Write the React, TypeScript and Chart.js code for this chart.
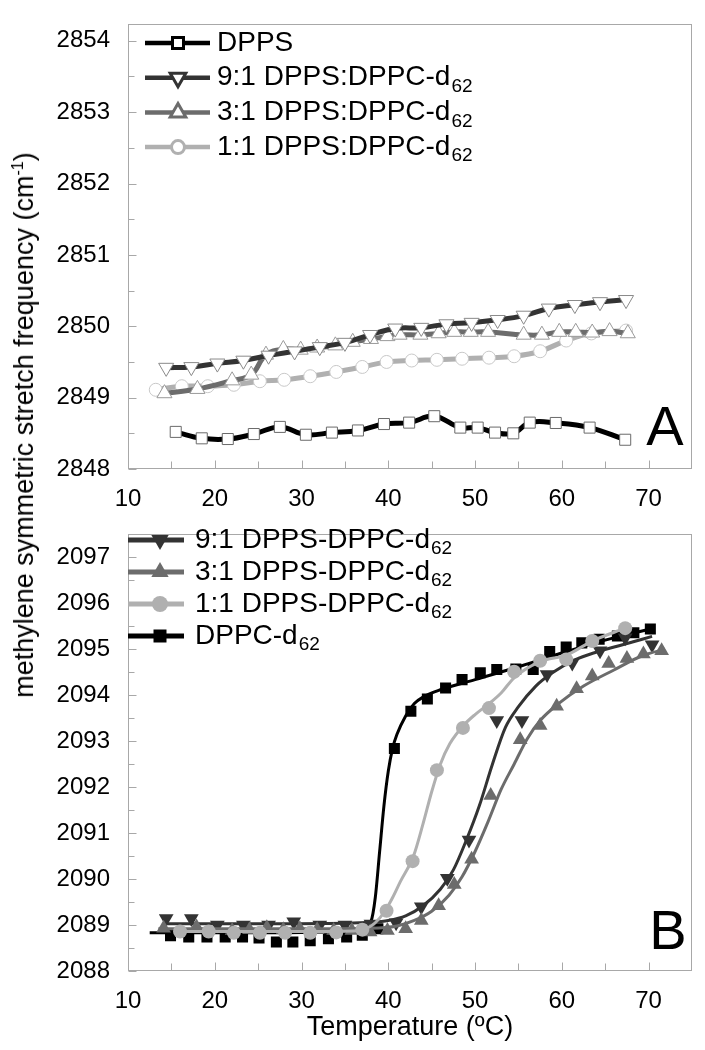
import React, { useEffect, useRef } from 'react';
import { Chart, registerables } from 'chart.js';

Chart.register(...registerables);

const FONT = "'Liberation Sans', Arial, Helvetica, sans-serif";

// ---------------- Panel A data (CH2 stretch, DPPS chains) ----------------
const aDppsX = [15.5, 18.5, 21.5, 24.5, 27.5, 30.5, 33.5, 36.5, 39.5, 42.4, 45.3, 48.3, 50.3, 52.3, 54.4, 56.3, 59.3, 63.2, 67.3];
const aDppsY = [2848.52, 2848.43, 2848.42, 2848.49, 2848.59, 2848.48, 2848.51, 2848.54, 2848.63, 2848.65, 2848.74, 2848.58, 2848.58, 2848.51, 2848.5, 2848.65, 2848.645, 2848.58, 2848.41];

const a91X = [14.4, 17.3, 20.3, 23.3, 26.2, 29.2, 32.1, 35.0, 37.9, 40.8, 43.8, 46.7, 49.6, 52.6, 55.6, 58.5, 61.5, 64.4, 67.4];
const a91Y = [2849.42, 2849.43, 2849.48, 2849.52, 2849.59, 2849.65, 2849.71, 2849.77, 2849.88, 2849.97, 2849.98, 2850.03, 2850.05, 2850.09, 2850.15, 2850.25, 2850.3, 2850.34, 2850.37];

const a31X = [14.2, 18.0, 22.0, 24.2, 25.9, 27.9, 29.9, 31.8, 33.9, 35.9, 38.0, 39.9, 41.3, 43.7, 45.8, 47.6, 49.5, 51.5, 55.6, 57.7, 59.7, 61.6, 63.5, 65.5, 67.6];
const a31Y = [2849.06, 2849.12, 2849.24, 2849.32, 2849.6, 2849.68, 2849.67, 2849.7, 2849.73, 2849.78, 2849.82, 2849.86, 2849.88, 2849.88, 2849.9, 2849.92, 2849.92, 2849.92, 2849.88, 2849.88, 2849.92, 2849.92, 2849.91, 2849.93, 2849.9];

const a11X = [13.2, 16.2, 19.2, 22.2, 25.2, 28.0, 31.0, 34.0, 37.0, 39.8, 42.7, 45.6, 48.5, 51.6, 54.5, 57.5, 60.5, 63.4, 67.4];
const a11Y = [2849.11, 2849.16, 2849.16, 2849.18, 2849.23, 2849.25, 2849.3, 2849.36, 2849.43, 2849.5, 2849.52, 2849.53, 2849.545, 2849.56, 2849.58, 2849.65, 2849.8, 2849.9, 2849.94];

// ---------------- Panel B data (CD2 stretch, DPPC-d62 chains) ----------------
const bDppcX = [14.9, 17.0, 19.1, 21.2, 23.2, 25.1, 27.1, 29.0, 31.0, 33.1, 35.2, 37.0, 38.8, 40.7, 42.6, 44.5, 46.6, 48.5, 50.6, 52.5, 54.7, 56.7, 58.6, 60.5, 62.3, 64.3, 66.4, 68.3, 70.2];
const bDppcY = [2088.77, 2088.74, 2088.74, 2088.74, 2088.74, 2088.72, 2088.63, 2088.63, 2088.66, 2088.7, 2088.74, 2088.78, 2088.92, 2092.84, 2093.65, 2093.92, 2094.16, 2094.34, 2094.49, 2094.56, 2094.57, 2094.56, 2094.95, 2095.05, 2095.14, 2095.22, 2095.29, 2095.36, 2095.44];
const bDppcFitX = [12.5, 20, 30, 35, 37, 38, 38.5, 39, 39.5, 40, 40.5, 41, 42, 43, 44, 46, 50, 55, 60, 65, 70.2];
const bDppcFitY = [2088.83, 2088.83, 2088.84, 2088.87, 2088.93, 2089.08, 2089.6, 2090.6, 2091.6, 2092.35, 2092.85, 2093.15, 2093.55, 2093.82, 2093.96, 2094.12, 2094.34, 2094.62, 2094.92, 2095.2, 2095.44];

const b91X = [14.4, 17.3, 20.3, 23.3, 26.2, 29.1, 32.1, 35.0, 38.0, 40.9, 43.8, 46.8, 49.3, 52.5, 55.4, 58.3, 61.2, 64.4, 67.3, 70.4];
const b91Y = [2089.14, 2089.14, 2089.0, 2089.0, 2089.0, 2089.07, 2089.0, 2089.0, 2089.02, 2089.05, 2089.4, 2090.02, 2090.85, 2093.45, 2093.45, 2094.45, 2094.7, 2094.97, 2095.25, 2095.1];
const b91FitX = [14.5, 25, 35, 38, 40, 42, 44, 46, 47.5, 49, 50.5, 52, 53.5, 55, 57, 59, 61.5, 64, 67, 70.4];
const b91FitY = [2089.03, 2089.03, 2089.04, 2089.06, 2089.1, 2089.2, 2089.42, 2089.78, 2090.2, 2090.85, 2091.6, 2092.5, 2093.3, 2093.75, 2094.2, 2094.5, 2094.77, 2094.94, 2095.1, 2095.28];

const b31X = [14.1, 17.9, 22.0, 24.0, 26.0, 27.9, 29.8, 31.8, 33.7, 35.8, 37.9, 39.9, 42.0, 43.8, 45.8, 47.6, 49.6, 51.8, 55.2, 57.5, 59.4, 61.7, 63.5, 65.4, 67.5, 69.4, 71.5];
const b31Y = [2088.93, 2088.96, 2088.88, 2088.9, 2088.94, 2088.9, 2088.92, 2088.9, 2088.88, 2088.88, 2088.85, 2088.88, 2088.92, 2089.1, 2089.42, 2089.88, 2090.43, 2091.82, 2093.03, 2093.34, 2093.76, 2094.14, 2094.42, 2094.69, 2094.8, 2094.9, 2094.97];
const b31FitX = [13.5, 30, 38, 41, 43, 45, 47, 48.5, 50, 51.5, 53, 54.5, 56, 57.5, 59.5, 62.5, 66, 69.4, 71.9];
const b31FitY = [2088.92, 2088.92, 2088.93, 2088.98, 2089.1, 2089.3, 2089.65, 2090.05, 2090.6, 2091.25, 2091.95, 2092.5, 2093.05, 2093.45, 2093.8, 2094.2, 2094.55, 2094.87, 2095.0];

const b11X = [16.0, 19.3, 22.2, 25.2, 28.1, 31.0, 34.0, 37.0, 39.8, 42.8, 45.6, 48.6, 51.6, 54.5, 57.5, 60.5, 63.5, 67.3];
const b11Y = [2088.86, 2088.86, 2088.83, 2088.83, 2088.83, 2088.83, 2088.84, 2088.9, 2089.31, 2090.39, 2092.37, 2093.29, 2093.72, 2094.51, 2094.75, 2094.78, 2095.18, 2095.46];
const b11FitX = [16, 30, 36, 37.5, 38.5, 39.6, 40.5, 41.4, 42.9, 44, 45, 46, 47.1, 48.7, 50, 51.5, 53, 54.5, 57.5, 60.6, 63.5, 67.3];
const b11FitY = [2088.86, 2088.86, 2088.87, 2088.93, 2089.05, 2089.3, 2089.6, 2089.95, 2090.5, 2091.2, 2091.9, 2092.5, 2092.95, 2093.35, 2093.58, 2093.8, 2094.05, 2094.38, 2094.73, 2094.88, 2095.18, 2095.46];

// Legend labels
const aLegendMain = ['DPPS', '9:1 DPPS:DPPC-d', '3:1 DPPS:DPPC-d', '1:1 DPPS:DPPC-d'];
const aLegendSub = ['', '62', '62', '62'];
const bLegendMain = ['9:1 DPPS-DPPC-d', '3:1 DPPS-DPPC-d', '1:1 DPPS-DPPC-d', 'DPPC-d'];
const bLegendSub = ['62', '62', '62', '62'];

// Axes
const X_MIN = 10;
const X_MAX = 75;
const A_Y_MIN = 2848;
const A_Y_MAX = 2854.23;
const B_Y_MIN = 2088;
const B_Y_MAX = 2097.5;

const C_BLACK = '#000000';
const C_DARK = '#333333';
const C_MID = '#6c6c6c';
const C_LIGHT = '#b0b0b0';
const C_AXIS = '#a8a8a8';

const pts = (xs: number[], ys: number[]) => xs.map((x, i) => ({ x, y: ys[i] }));

type MarkerKind = 'rect' | 'triUp' | 'triDown' | 'circle';

function drawMarker(ctx: CanvasRenderingContext2D, kind: MarkerKind, x: number, y: number, r: number, fill: string, stroke: string, lw: number) {
  ctx.beginPath();
  if (kind === 'rect') {
    ctx.rect(x - r, y - r, 2 * r, 2 * r);
  } else if (kind === 'circle') {
    ctx.arc(x, y, r, 0, Math.PI * 2);
  } else {
    const s = kind === 'triUp' ? 1 : -1;
    ctx.moveTo(x, y - s * r);
    ctx.lineTo(x + r * 0.866, y + s * r * 0.5);
    ctx.lineTo(x - r * 0.866, y + s * r * 0.5);
    ctx.closePath();
  }
  ctx.fillStyle = fill;
  ctx.fill();
  if (lw > 0) {
    ctx.lineWidth = lw;
    ctx.strokeStyle = stroke;
    ctx.stroke();
  }
}

interface LegendItem {
  main: string;
  sub: string;
  color: string;
  kind: MarkerKind;
  r: number;
  fill: string;
  stroke: string;
  mlw: number;
}

interface DecorOpts {
  letter: string;
  letterX: number;
  letterY: number;
  legend: LegendItem[];
  legX1: number;
  legX2: number;
  legMX: number;
  legTX: number;
  legY0: number;
  legDY: number;
  legLW: number;
}

function makeDecor(o: DecorOpts) {
  return {
    id: 'decor',
    beforeDatasetsDraw(chart: any) {
      const { ctx, chartArea: a, scales } = chart;
      const xs = scales.x;
      const ys = scales.y;
      ctx.save();
      ctx.strokeStyle = C_AXIS;
      ctx.lineWidth = 1;
      const L = Math.round(a.left) + 0.5;
      const R = Math.round(a.right) - 0.5;
      const T = Math.round(a.top) + 0.5;
      const B = Math.round(a.bottom) - 0.5;
      ctx.strokeRect(L, T, R - L, B - T);
      ctx.beginPath();
      const xt: number[] = xs.ticks.map((t: any) => t.value);
      const xStep = xt[1] - xt[0];
      xt.forEach((v) => {
        const p = Math.round(xs.getPixelForValue(v)) + 0.5;
        ctx.moveTo(p, B);
        ctx.lineTo(p, B - 8);
      });
      for (let v = xt[0] + xStep / 2; v < xs.max - 1e-6; v += xStep) {
        const p = Math.round(xs.getPixelForValue(v)) + 0.5;
        ctx.moveTo(p, B);
        ctx.lineTo(p, B - 7);
      }
      const yt: number[] = ys.ticks.map((t: any) => t.value);
      const yStep = yt[1] - yt[0];
      yt.forEach((v) => {
        const p = Math.round(ys.getPixelForValue(v)) + 0.5;
        ctx.moveTo(L, p);
        ctx.lineTo(L + 8, p);
      });
      for (let v = yt[0] + yStep / 2; v < ys.max - 1e-6; v += yStep) {
        const p = Math.round(ys.getPixelForValue(v)) + 0.5;
        ctx.moveTo(L, p);
        ctx.lineTo(L + 6, p);
      }
      ctx.stroke();
      ctx.restore();
    },
    afterDatasetsDraw(chart: any) {
      const { ctx } = chart;
      ctx.save();
      // panel letter
      ctx.fillStyle = '#000';
      ctx.font = `56px ${FONT}`;
      ctx.textAlign = 'center';
      ctx.textBaseline = 'alphabetic';
      ctx.fillText(o.letter, o.letterX, o.letterY);
      // legend
      o.legend.forEach((it, i) => {
        const y = o.legY0 + i * o.legDY;
        ctx.beginPath();
        ctx.strokeStyle = it.color;
        ctx.lineWidth = o.legLW;
        ctx.lineCap = 'butt';
        ctx.moveTo(o.legX1, y);
        ctx.lineTo(o.legX2, y);
        ctx.stroke();
        drawMarker(ctx, it.kind, o.legMX, y, it.r, it.fill, it.stroke, it.mlw);
        ctx.fillStyle = '#000';
        ctx.textAlign = 'left';
        ctx.textBaseline = 'middle';
        ctx.font = `28px ${FONT}`;
        ctx.fillText(it.main, o.legTX, y);
        if (it.sub) {
          const w = ctx.measureText(it.main).width;
          ctx.font = `19px ${FONT}`;
          ctx.fillText(it.sub, o.legTX + w + 1, y + 9);
        }
      });
      ctx.restore();
    },
  };
}

function axisScales(yMin: number, yMax: number, xHeight: number) {
  const tickFont = { family: FONT, size: 24 };
  return {
    x: {
      type: 'linear',
      min: X_MIN,
      max: X_MAX,
      afterFit: (s: any) => {
        s.height = xHeight;
      },
      grid: { display: false },
      border: { display: false },
      ticks: {
        stepSize: 10,
        includeBounds: false,
        padding: 8,
        color: '#000',
        font: tickFont,
        maxRotation: 0,
        autoSkip: false,
        callback: (v: any) => String(v),
      },
    },
    y: {
      type: 'linear',
      min: yMin,
      max: yMax,
      afterFit: (s: any) => {
        s.width = 128;
      },
      grid: { display: false },
      border: { display: false },
      ticks: {
        stepSize: 1,
        includeBounds: false,
        padding: 10,
        color: '#000',
        font: tickFont,
        autoSkip: false,
        callback: (v: any) => String(v),
      },
    },
  };
}

function PanelA() {
  const ref = useRef<HTMLCanvasElement | null>(null);
  useEffect(() => {
    if (!ref.current) return;
    const legend: LegendItem[] = [
      { main: aLegendMain[0], sub: aLegendSub[0], color: C_BLACK, kind: 'rect', r: 5.5, fill: '#fff', stroke: C_BLACK, mlw: 3 },
      { main: aLegendMain[1], sub: aLegendSub[1], color: C_DARK, kind: 'triDown', r: 9, fill: '#fff', stroke: C_DARK, mlw: 3 },
      { main: aLegendMain[2], sub: aLegendSub[2], color: C_MID, kind: 'triUp', r: 9, fill: '#fff', stroke: C_MID, mlw: 3 },
      { main: aLegendMain[3], sub: aLegendSub[3], color: C_LIGHT, kind: 'circle', r: 6.5, fill: '#fff', stroke: C_LIGHT, mlw: 3 },
    ];
    const decor = makeDecor({
      letter: 'A', letterX: 665, letterY: 445, legend,
      legX1: 145, legX2: 210, legMX: 178, legTX: 217, legY0: 43, legDY: 34.7, legLW: 4.5,
    });
    const common = { borderWidth: 5, tension: 0.4, pointBackgroundColor: '#ffffff', pointBorderWidth: 1 };
    const chart = new Chart(ref.current, {
      type: 'line',
      data: {
        datasets: [
          { ...common, label: 'DPPS', data: pts(aDppsX, aDppsY), borderColor: C_BLACK, pointStyle: 'rect', pointRadius: 7.8, pointBorderColor: '#6a6a6a', order: 3 },
          { ...common, label: '9:1', data: pts(a91X, a91Y), borderColor: C_DARK, pointStyle: 'triangle', pointRotation: 180, pointRadius: 8.7, pointBorderColor: '#8a8a8a', order: 0 },
          { ...common, label: '3:1', data: pts(a31X, a31Y), borderColor: C_MID, pointStyle: 'triangle', pointRadius: 8.7, pointBorderColor: '#9a9a9a', order: 1 },
          { ...common, label: '1:1', data: pts(a11X, a11Y), borderColor: C_LIGHT, pointStyle: 'circle', pointRadius: 6.5, pointBorderColor: '#c8c8c8', order: 2 },
        ],
      } as any,
      options: {
        responsive: false,
        animation: false,
        devicePixelRatio: 1,
        layout: { padding: { top: 12, right: 13, left: 0, bottom: 0 } },
        plugins: { legend: { display: false }, tooltip: { enabled: false } },
        scales: axisScales(A_Y_MIN, A_Y_MAX, 41) as any,
      },
      plugins: [decor],
    });
    return () => chart.destroy();
  }, []);
  return <canvas ref={ref} width={705} height={510} style={{ display: 'block', position: 'absolute', left: 0, top: 0 }} />;
}

function PanelB() {
  const ref = useRef<HTMLCanvasElement | null>(null);
  useEffect(() => {
    if (!ref.current) return;
    const legend: LegendItem[] = [
      { main: bLegendMain[0], sub: bLegendSub[0], color: C_DARK, kind: 'triDown', r: 10, fill: C_DARK, stroke: C_DARK, mlw: 0 },
      { main: bLegendMain[1], sub: bLegendSub[1], color: C_MID, kind: 'triUp', r: 10, fill: C_MID, stroke: C_MID, mlw: 0 },
      { main: bLegendMain[2], sub: bLegendSub[2], color: C_LIGHT, kind: 'circle', r: 8, fill: C_LIGHT, stroke: C_LIGHT, mlw: 0 },
      { main: bLegendMain[3], sub: bLegendSub[3], color: C_BLACK, kind: 'rect', r: 6.5, fill: C_BLACK, stroke: C_BLACK, mlw: 0 },
    ];
    const decor = makeDecor({
      letter: 'B', letterX: 668, letterY: 439, legend,
      legX1: 128, legX2: 184, legMX: 160, legTX: 195, legY0: 30, legDY: 32, legLW: 5,
    });
    const mk = { showLine: false, pointBorderWidth: 0 };
    const fit = { pointRadius: 0, borderWidth: 3, cubicInterpolationMode: 'monotone' };
    const chart = new Chart(ref.current, {
      type: 'line',
      data: {
        datasets: [
          { ...mk, label: '1:1 pts', data: pts(b11X, b11Y), pointStyle: 'circle', pointRadius: 7, pointBackgroundColor: C_LIGHT, borderColor: C_LIGHT, order: 0 },
          { ...fit, label: '1:1 fit', data: pts(b11FitX, b11FitY), borderColor: C_LIGHT, order: 1 },
          { ...mk, label: '3:1 pts', data: pts(b31X, b31Y), pointStyle: 'triangle', pointRadius: 8.5, pointBackgroundColor: C_MID, borderColor: C_MID, order: 2 },
          { ...fit, label: '3:1 fit', data: pts(b31FitX, b31FitY), borderColor: C_MID, order: 3 },
          { ...mk, label: '9:1 pts', data: pts(b91X, b91Y), pointStyle: 'triangle', pointRotation: 180, pointRadius: 8.5, pointBackgroundColor: C_DARK, borderColor: C_DARK, order: 4 },
          { ...fit, label: '9:1 fit', data: pts(b91FitX, b91FitY), borderColor: C_DARK, order: 5 },
          { ...mk, label: 'DPPC pts', data: pts(bDppcX, bDppcY), pointStyle: 'rect', pointRadius: 7.8, pointBackgroundColor: C_BLACK, borderColor: C_BLACK, order: 6 },
          { ...fit, label: 'DPPC fit', data: pts(bDppcFitX, bDppcFitY), borderColor: C_BLACK, order: 5.5 },
        ],
      } as any,
      options: {
        responsive: false,
        animation: false,
        devicePixelRatio: 1,
        layout: { padding: { top: 6, right: 13, left: 0, bottom: 0 } },
        plugins: { legend: { display: false }, tooltip: { enabled: false } },
        scales: axisScales(B_Y_MIN, B_Y_MAX, 79) as any,
      },
      plugins: [decor],
    });
    return () => chart.destroy();
  }, []);
  return <canvas ref={ref} width={705} height={540} style={{ display: 'block', position: 'absolute', left: 0, top: 510 }} />;
}

export default function App() {
  return (
    <div style={{ position: 'absolute', left: 0, top: 0, width: 705, height: 1050, background: '#fff', overflow: 'hidden' }}>
      <PanelA />
      <PanelB />
      <div
        style={{
          position: 'absolute',
          left: 24,
          top: 425,
          transform: 'translate(-50%, -50%) rotate(-90deg)',
          whiteSpace: 'nowrap',
          fontFamily: FONT,
          fontSize: 27,
          lineHeight: '30px',
          color: '#000',
        }}
      >
        methylene symmetric stretch frequency (cm<sup style={{ fontSize: '0.6em', lineHeight: 0 }}>-1</sup>)
      </div>
      <div
        style={{
          position: 'absolute',
          left: 410,
          top: 1026,
          transform: 'translate(-50%, -50%)',
          whiteSpace: 'nowrap',
          fontFamily: FONT,
          fontSize: 27,
          lineHeight: '30px',
          color: '#000',
        }}
      >
        Temperature (ºC)
      </div>
    </div>
  );
}
